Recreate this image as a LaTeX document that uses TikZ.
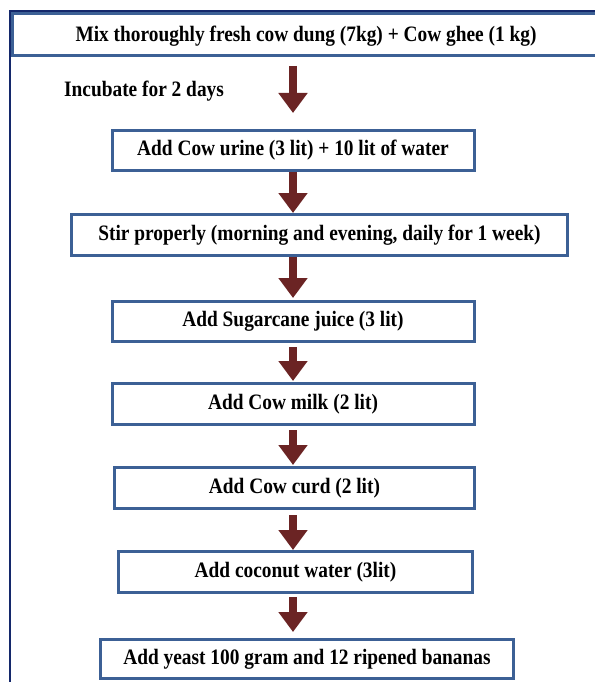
\documentclass[tikz,border=0pt]{standalone}
\usepackage{fontspec}
\setmainfont{Liberation Serif}[FakeStretch=0.88]
\usetikzlibrary{arrows.meta,calc}
\definecolor{boxblue}{HTML}{3C6095}
\definecolor{framenavy}{HTML}{14286B}
\definecolor{arrowred}{HTML}{6B2424}
\begin{document}
\begin{tikzpicture}[x=1pt,y=-1pt,
  txt/.style={font=\bfseries\fontsize{22}{24}\selectfont, inner sep=0pt},
  stepbox/.style={draw=boxblue, line width=3pt, fill=white, txt},
  barrow/.style={draw=arrowred, line width=8pt, -{Triangle[width=28pt,length=20pt,fill=arrowred]}}]
\useasboundingbox (0,0) rectangle (594,682);
\fill[white] (0,0) rectangle (594,682);
\coordinate (col) at (293,0);
% top box (runs off the right edge)
\node[stepbox, minimum width=627pt, minimum height=42pt] (b1) at (326,34.5) {};
\node[txt] (t1) at (306,36) {Mix thoroughly fresh cow dung (7kg) + Cow ghee (1 kg)};
% outer frame
\draw[framenavy, line width=2pt] (10,700) |- (620,11);
\node[txt, anchor=west] (t0) at (64,91) {Incubate for 2 days};
\node[stepbox, minimum width=362pt, minimum height=40pt] (b2) at (293,150.5) {Add Cow urine (3 lit) + 10 lit of water};
\node[stepbox, minimum width=496pt, minimum height=41pt] (b3) at (319.5,235) {Stir properly (morning and evening, daily for 1 week)};
\node[stepbox, minimum width=362pt, minimum height=40pt] (b4) at (293,321.5) {Add Sugarcane juice (3 lit)};
\node[stepbox, minimum width=362pt, minimum height=41pt] (b5) at (293,404) {Add Cow milk (2 lit)};
\node[stepbox, minimum width=360pt, minimum height=41pt] (b6) at (294.5,488) {Add Cow curd (2 lit)};
\node[stepbox, minimum width=354pt, minimum height=41pt] (b7) at (295.5,572) {Add coconut water (3lit)};
\node[stepbox, minimum width=413pt, minimum height=39pt] (b8) at (307,659) {Add yeast 100 gram and 12 ripened bananas};
% arrows
\draw[barrow] ($(b1.south -| col)+(0,9)$) -- ($(b2.north -| col)+(0,-16)$);
\draw[barrow] (b2.south -| col) -- (b3.north -| col);
\draw[barrow] (b3.south -| col) -- ($(b4.north -| col)+(0,-2)$);
\draw[barrow] ($(b4.south -| col)+(0,4)$) -- ($(b5.north -| col)+(0,-1)$);
\draw[barrow] ($(b5.south -| col)+(0,4)$) -- ($(b6.north -| col)+(0,-1)$);
\draw[barrow] ($(b6.south -| col)+(0,5)$) -- (b7.north -| col);
\draw[barrow] ($(b7.south -| col)+(0,3)$) -- ($(b8.north -| col)+(0,-6)$);
\end{tikzpicture}
\end{document}
